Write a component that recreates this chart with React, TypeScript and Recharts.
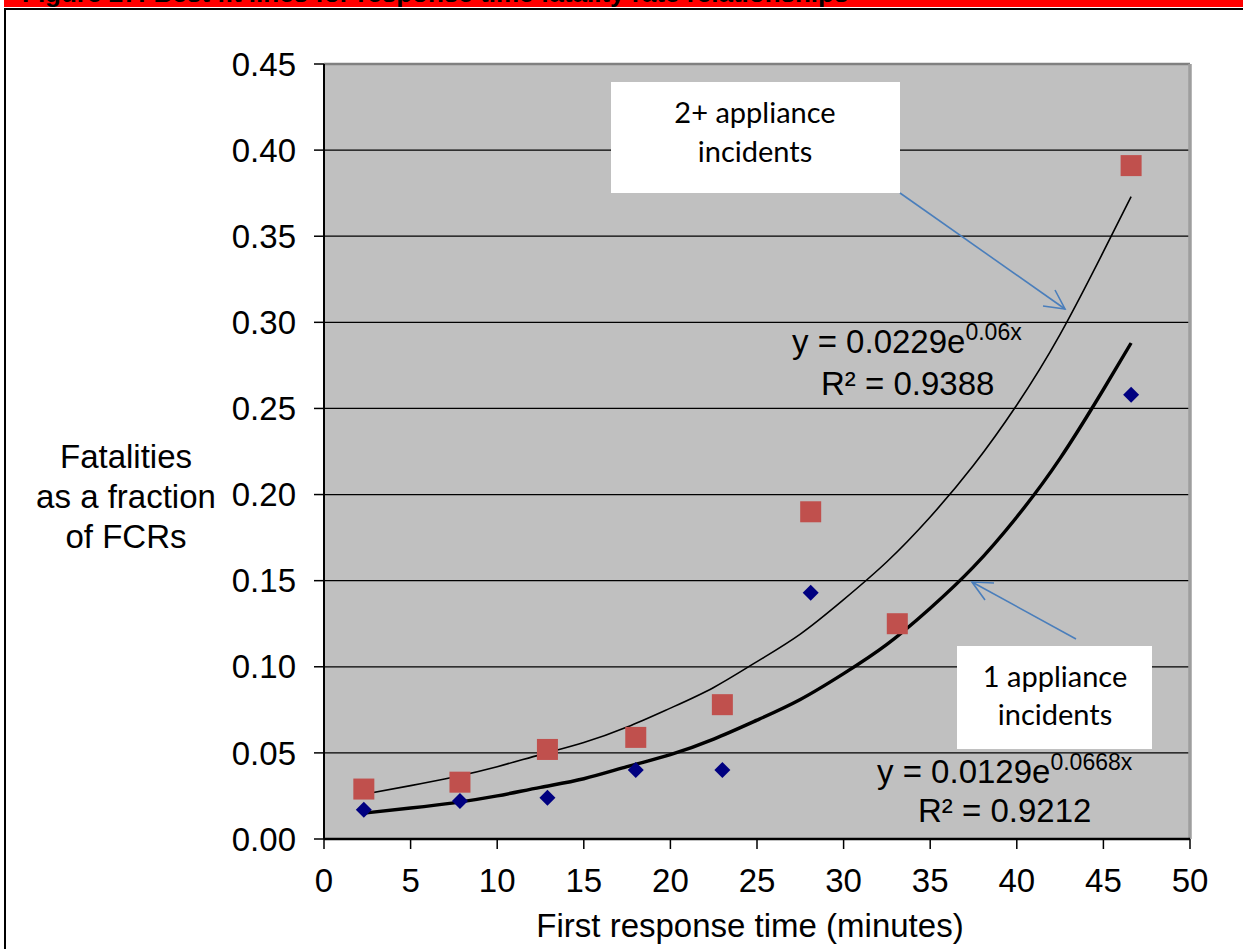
import React from 'react';
import { ComposedChart, Scatter, Line, XAxis, YAxis, CartesianGrid, ReferenceLine } from 'recharts';

const W = 1243;
const H = 949;

const titleText = 'Figure 27: Best fit lines for response time fatality rate relationships';
const xTitle = 'First response time (minutes)';
const yTitleLines = ['Fatalities', 'as a fraction', 'of FCRs'];

const xTicks = [0, 5, 10, 15, 20, 25, 30, 35, 40, 45, 50];
const yTicks = [0, 0.05, 0.1, 0.15, 0.2, 0.25, 0.3, 0.35, 0.4, 0.45];

// 2+ appliance incidents (red squares)
const twoPlusX = [2.3, 7.85, 12.9, 18.0, 23.0, 28.1, 33.1, 46.6];
const twoPlusY = [0.029, 0.033, 0.052, 0.059, 0.078, 0.19, 0.125, 0.391];

// 1 appliance incidents (blue diamonds)
const oneX = [2.3, 7.85, 12.9, 18.0, 23.0, 28.1, 46.6];
const oneY = [0.017, 0.022, 0.024, 0.04, 0.04, 0.143, 0.258];

// trend lines
const fitX = [2.3, 5, 7.5, 10, 12.5, 15, 17.5, 20, 22.5, 25, 27.5, 30, 32.5, 35, 37.5, 40, 42.5, 45, 46.6];
const twoFitY = [0.026, 0.031, 0.036, 0.042, 0.049, 0.056, 0.065, 0.076, 0.088, 0.103, 0.119, 0.139, 0.161, 0.187, 0.217, 0.252, 0.293, 0.341, 0.373];
const oneFitY = [0.015, 0.018, 0.021, 0.025, 0.03, 0.035, 0.042, 0.049, 0.058, 0.069, 0.081, 0.096, 0.113, 0.134, 0.158, 0.187, 0.221, 0.261, 0.288];

const eq1 = { main: 'y = 0.0229e', sup: '0.06x', r2: 'R² = 0.9388' };
const eq2 = { main: 'y = 0.0129e', sup: '0.0668x', r2: 'R² = 0.9212' };
const box1Lines = ['2+ appliance', 'incidents'];
const box2Lines = ['1 appliance', 'incidents'];

const ARIAL = '"Liberation Sans", Arial, sans-serif';
const CALIBRI = 'Lato, "Open Sans", sans-serif';
const ARROW = '#4A7EBB';

const SquareShape = (props: any) => {
  const { cx, cy } = props;
  if (cx == null || cy == null) return null;
  return <rect x={cx - 10.5} y={cy - 10.5} width={21} height={21} fill="#C0504D" />;
};

const DiamondShape = (props: any) => {
  const { cx, cy } = props;
  if (cx == null || cy == null) return null;
  const r = 8;
  return <polygon points={`${cx},${cy - r} ${cx + r},${cy} ${cx},${cy + r} ${cx - r},${cy}`} fill="#000080" />;
};

export default function App() {
  const twoPts = twoPlusX.map((x, i) => ({ x, y: twoPlusY[i] }));
  const onePts = oneX.map((x, i) => ({ x, y: oneY[i] }));
  const twoFit = fitX.map((x, i) => ({ x, y: twoFitY[i] }));
  const oneFit = fitX.map((x, i) => ({ x, y: oneFitY[i] }));

  const tickStyle = { fontSize: 33, fill: '#000', fontFamily: ARIAL };

  return (
    <div style={{ position: 'absolute', left: 0, top: 0, width: W, height: H, overflow: 'hidden', background: '#fff' }}>
      <div style={{ position: 'absolute', left: 4, top: 0, width: W, height: 7, background: '#ff0000', overflow: 'hidden' }}>
        <div
          style={{
            position: 'absolute',
            left: 18,
            top: -20,
            fontFamily: ARIAL,
            fontWeight: 'bold',
            fontSize: 26,
            lineHeight: '26px',
            whiteSpace: 'nowrap',
            color: '#000',
          }}
        >
          {titleText}
        </div>
      </div>
      <div
        style={{
          position: 'absolute',
          left: 4,
          top: 8,
          width: W + 40,
          height: H + 40,
          border: '2px solid #000',
          boxSizing: 'border-box',
        }}
      />
      <div style={{ position: 'absolute', left: 0, top: 0 }}>
        <ComposedChart width={W} height={H} margin={{ top: 64, right: 53, bottom: 0, left: 0 }}>
          <CartesianGrid vertical={false} fill="#C0C0C0" fillOpacity={1} stroke="#000" strokeWidth={1.3} />
          <XAxis
            type="number"
            dataKey="x"
            domain={[0, 50]}
            ticks={xTicks}
            interval={0}
            height={110}
            tickSize={10}
            tickMargin={20}
            tick={tickStyle}
            axisLine={{ stroke: '#000', strokeWidth: 2.5 }}
            tickLine={{ stroke: '#000', strokeWidth: 1.5 }}
            allowDataOverflow
          />
          <YAxis
            type="number"
            dataKey="y"
            domain={[0, 0.45]}
            ticks={yTicks}
            interval={0}
            width={324}
            tickSize={10}
            tickMargin={18}
            tick={tickStyle}
            tickFormatter={(v: number) => v.toFixed(2)}
            axisLine={{ stroke: '#000', strokeWidth: 2 }}
            tickLine={{ stroke: '#000', strokeWidth: 1.5 }}
            allowDataOverflow
          />
          <ReferenceLine y={0.45} stroke="#808080" strokeWidth={2.5} />
          <ReferenceLine x={50} stroke="#9e9e9e" strokeWidth={3.5} />
          <Scatter data={twoPts} dataKey="y" shape={SquareShape} isAnimationActive={false} />
          <Scatter data={onePts} dataKey="y" shape={DiamondShape} isAnimationActive={false} />
          <Line
            data={twoFit}
            dataKey="y"
            type="natural"
            stroke="#000"
            strokeWidth={1.6}
            dot={false}
            activeDot={false}
            isAnimationActive={false}
          />
          <Line
            data={oneFit}
            dataKey="y"
            type="natural"
            stroke="#000"
            strokeWidth={3.4}
            dot={false}
            activeDot={false}
            isAnimationActive={false}
          />
        </ComposedChart>
      </div>
      <svg width={W} height={H} style={{ position: 'absolute', left: 0, top: 0, pointerEvents: 'none' }}>
        {yTitleLines.map((t, i) => (
          <text key={t} x={126} y={468 + i * 40} textAnchor="middle" fontFamily={ARIAL} fontSize={33} fill="#000">
            {t}
          </text>
        ))}
        <text x={750} y={937} textAnchor="middle" fontFamily={ARIAL} fontSize={33} fill="#000">
          {xTitle}
        </text>

        <rect x={611} y={82} width={289} height={111} fill="#fff" />
        {box1Lines.map((t, i) => (
          <text key={t} x={755} y={123 + i * 39} textAnchor="middle" fontFamily={CALIBRI} fontSize={29} fill="#000">
            {t}
          </text>
        ))}
        <line x1={900} y1={193} x2={1065} y2={309} stroke={ARROW} strokeWidth={1.6} />
        <polyline points="1043,306 1065,309 1055,290" fill="none" stroke={ARROW} strokeWidth={1.6} />

        <rect x={957} y={646} width={195} height={103} fill="#fff" />
        {box2Lines.map((t, i) => (
          <text key={t} x={1055} y={687 + i * 38} textAnchor="middle" fontFamily={CALIBRI} fontSize={29} fill="#000">
            {t}
          </text>
        ))}
        <line x1={1076} y1={639} x2={972} y2={582} stroke={ARROW} strokeWidth={1.6} />
        <polyline points="994,583 972,582 985,600" fill="none" stroke={ARROW} strokeWidth={1.6} />

        <text x={792} y={353} fontFamily={ARIAL} fontSize={33} fill="#000">
          {eq1.main}
          <tspan dy={-13} fontSize={23}>
            {eq1.sup}
          </tspan>
        </text>
        <text x={821} y={395} fontFamily={ARIAL} fontSize={33} fill="#000">
          {eq1.r2}
        </text>

        <text x={877} y={783} fontFamily={ARIAL} fontSize={33} fill="#000">
          {eq2.main}
          <tspan dy={-13} fontSize={23}>
            {eq2.sup}
          </tspan>
        </text>
        <text x={918} y={822} fontFamily={ARIAL} fontSize={33} fill="#000">
          {eq2.r2}
        </text>
      </svg>
    </div>
  );
}
